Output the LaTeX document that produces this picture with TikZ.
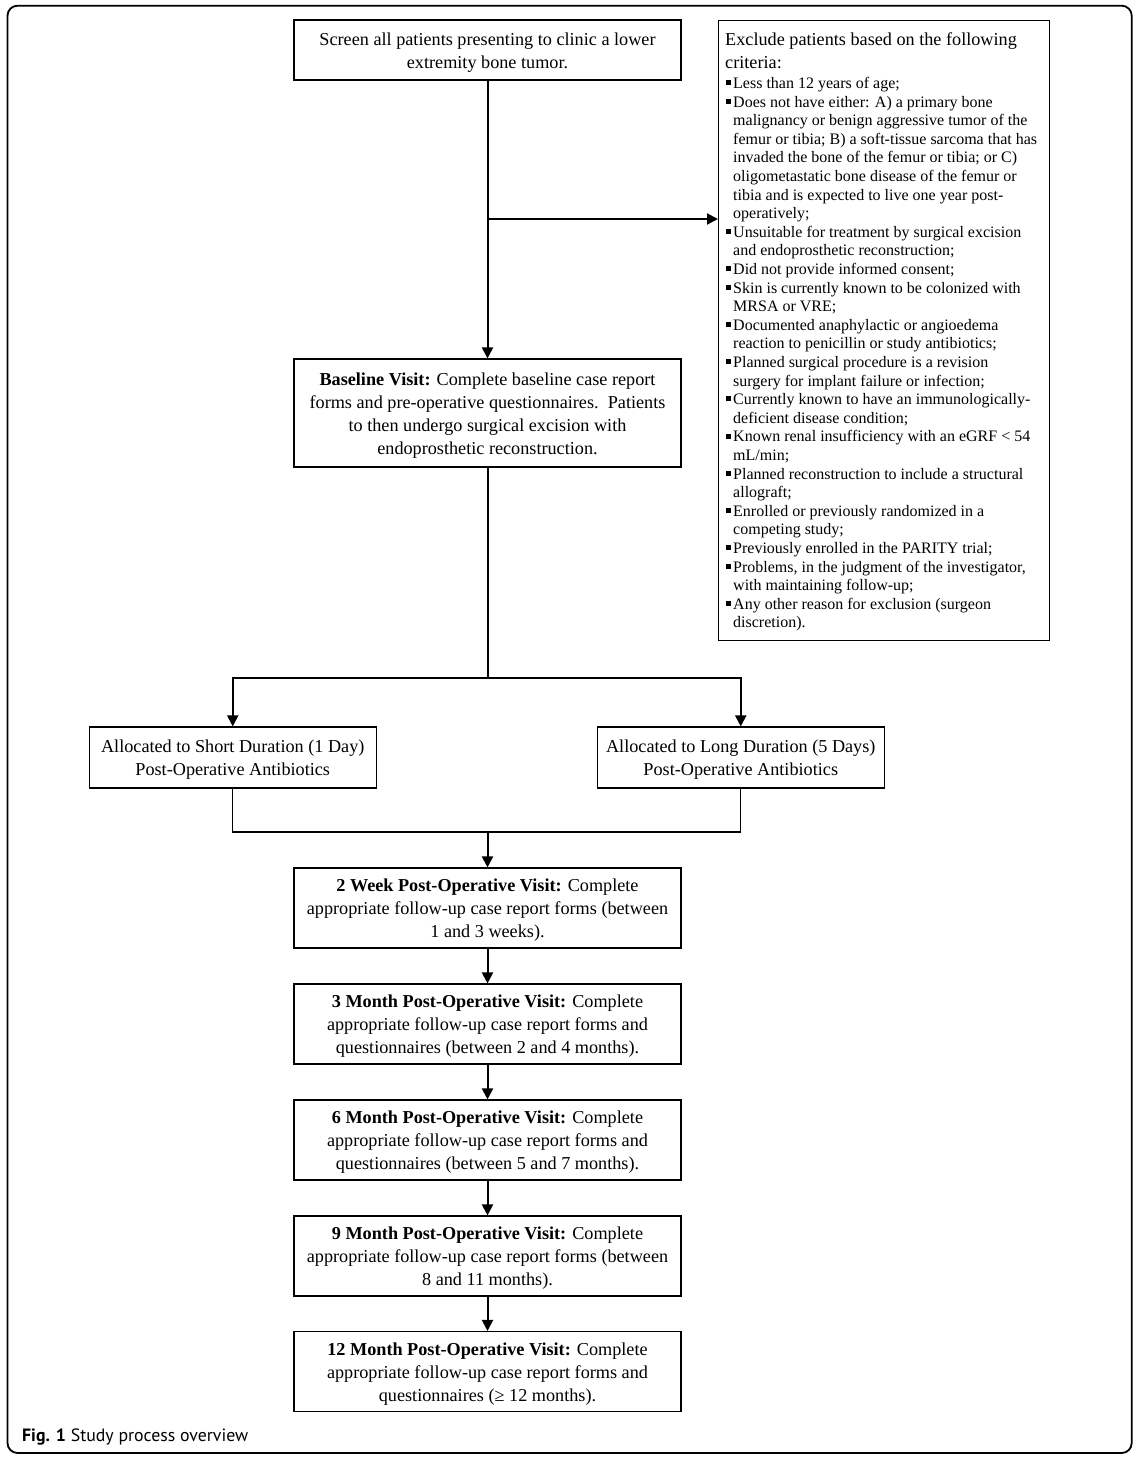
\documentclass[tikz,border=0pt]{standalone}
\usepackage{fontspec}
\setmainfont{Liberation Serif}
\newfontfamily\capfont{PT Sans}
\usetikzlibrary{arrows.meta}
\newcommand\mainsz{\fontsize{18.2}{23}\selectfont}
\newcommand\itm{\noindent\hangindent=8pt\hangafter=1\hspace*{1pt}\rule[3.3pt]{5pt}{5pt}\hspace*{2pt}}
\newcommand\nl{\newline}
\newcommand\tsr{\rule{0pt}{18pt}}
\newcommand\bsr{\rule[-5pt]{0pt}{5pt}}
\begin{document}
\begin{tikzpicture}[x=1pt,y=-1pt,
  box/.style={draw=black, line width=1.1pt, minimum width=387pt, align=center, inner sep=0pt, font=\mainsz},
  abox/.style={box, minimum width=287pt, minimum height=61pt},
  fbox/.style={box, minimum height=80pt},
  conn/.style={line width=2pt},
  thinconn/.style={line width=1.3pt},
  arr/.style={-{Triangle[length=11pt,width=11pt]}}]
\useasboundingbox (0,0) rectangle (1142,1466);
\draw[line width=1.8pt, rounded corners=10pt] (7.5,5.7) rectangle (1131.7,1453);

\node[box, minimum height=60pt] (screen) at (487.5,50) {\rule{0pt}{19pt}Screen all patients presenting to clinic a lower\\ extremity bone tumor.\bsr};

\node[draw=black, line width=1.1pt, minimum width=331pt, minimum height=620pt, anchor=north west, inner sep=0pt] (excl) at (718,20) {};
\node[anchor=base west, inner sep=0pt] (excltext) at (725,45.5) {\parbox[t]{340pt}{\raggedright
\fontsize{18.2}{23}\selectfont Exclude patients based on the following\nl criteria:\par
\vspace{1.4pt}
\fontsize{16}{18.6}\selectfont
\itm Less than 12 years of age;\par
\itm Does not have either: A) a primary bone\nl malignancy or benign aggressive tumor of the\nl femur or tibia; B) a soft-tissue sarcoma that has\nl invaded the bone of the femur or tibia; or C)\nl oligometastatic bone disease of the femur or\nl tibia and is expected to live one year post-\nl operatively;\par
\itm Unsuitable for treatment by surgical excision\nl and endoprosthetic reconstruction;\par
\itm Did not provide informed consent;\par
\itm Skin is currently known to be colonized with\nl MRSA or VRE;\par
\itm Documented anaphylactic or angioedema\nl reaction to penicillin or study antibiotics;\par
\itm Planned surgical procedure is a revision\nl surgery for implant failure or infection;\par
\itm Currently known to have an immunologically-\nl deficient disease condition;\par
\itm Known renal insufficiency with an eGRF < 54\nl mL/min;\par
\itm Planned reconstruction to include a structural\nl allograft;\par
\itm Enrolled or previously randomized in a\nl competing study;\par
\itm Previously enrolled in the PARITY trial;\par
\itm Problems, in the judgment of the investigator,\nl with maintaining follow-up;\par
\itm Any other reason for exclusion (surgeon\nl discretion).\par}};

\node[box, minimum height=108pt] (baseline) at (487.5,413) {\tsr\textbf{Baseline Visit:} Complete baseline case report\\ forms and pre-operative questionnaires.\ \ Patients\\ to then undergo surgical excision with\\ endoprosthetic reconstruction.\bsr};

\node[abox] (short) at (232.75,757.5) {\rule{0pt}{17pt}Allocated to Short Duration (1 Day)\\ Post-Operative Antibiotics\bsr};
\node[abox] (long) at (740.75,757.5) {\rule{0pt}{17pt}Allocated to Long Duration (5 Days)\\ Post-Operative Antibiotics\bsr};

\node[fbox] (w2) at (487.5,908) {\tsr\textbf{2 Week Post-Operative Visit:} Complete\\ appropriate follow-up case report forms (between\\ 1 and 3 weeks).\bsr};
\node[fbox] (m3) at (487.5,1024) {\tsr\textbf{3 Month Post-Operative Visit:} Complete\\ appropriate follow-up case report forms and\\ questionnaires (between 2 and 4 months).\bsr};
\node[fbox] (m6) at (487.5,1140) {\tsr\textbf{6 Month Post-Operative Visit:} Complete\\ appropriate follow-up case report forms and\\ questionnaires (between 5 and 7 months).\bsr};
\node[fbox] (m9) at (487.5,1256) {\tsr\textbf{9 Month Post-Operative Visit:} Complete\\ appropriate follow-up case report forms (between\\ 8 and 11 months).\bsr};
\node[fbox] (m12) at (487.5,1371.5) {\tsr\textbf{12 Month Post-Operative Visit:} Complete\\ appropriate follow-up case report forms and\\ questionnaires (≥ 12 months).\bsr};

\coordinate (br1) at (487.5,219);
\coordinate (split) at (487.5,678);
\coordinate (merge) at (487.5,832);

\draw[conn, arr] (screen.south) -- (baseline.north);
\draw[conn, arr] (br1) -- (br1 -| excl.west);
\draw[conn] (baseline.south) -- (split);
\draw[conn, arr] (split) -| (short.north);
\draw[conn, arr] (split) -| (long.north);
\draw[thinconn] (short.south) |- (merge) -| (long.south);
\draw[conn, arr] (merge) -- (w2.north);
\draw[conn, arr] (w2.south) -- (m3.north);
\draw[conn, arr] (m3.south) -- (m6.north);
\draw[conn, arr] (m6.south) -- (m9.north);
\draw[conn, arr] (m9.south) -- (m12.north);

\node[anchor=base west, inner sep=0pt, font=\capfont\fontsize{17.8}{20}\selectfont] (caption) at (22,1441) {\textbf{Fig. 1} Study process overview};
\end{tikzpicture}
\end{document}
